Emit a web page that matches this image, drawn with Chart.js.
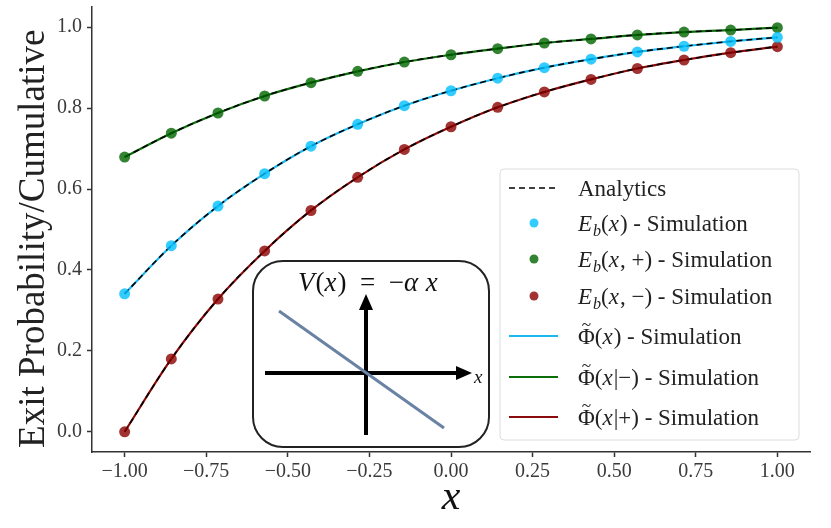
<!DOCTYPE html>
<html lang="en">
<head>
  <meta charset="UTF-8" />
  <title>Exit Probability / Cumulative</title>
  <style>
    html, body { margin: 0; padding: 0; background: #fff; }
    #wrap { width: 831px; height: 528px; }
  </style>
</head>
<body>
  <div id="wrap"><canvas id="chart"></canvas></div>

  <script src="https://cdn.jsdelivr.net/npm/chart.js"></script>
  <script>
    // x grid of the simulation (15 points between -1 and 1)
    const xs = [-1, -0.857, -0.714, -0.571, -0.429, -0.286, -0.143, 0, 0.143, 0.286, 0.429, 0.571, 0.714, 0.857, 1];
    // E_b(x), E_b(x,+), E_b(x,-) simulation points
    const ebAll   = [0.341, 0.460, 0.558, 0.638, 0.706, 0.760, 0.806, 0.843, 0.874, 0.900, 0.921, 0.939, 0.953, 0.965, 0.975];
    const ebPlus  = [0.679, 0.738, 0.788, 0.830, 0.863, 0.891, 0.914, 0.932, 0.947, 0.961, 0.971, 0.981, 0.988, 0.993, 0.999];
    const ebMinus = [0.000, 0.180, 0.328, 0.447, 0.547, 0.629, 0.698, 0.754, 0.802, 0.840, 0.871, 0.898, 0.919, 0.937, 0.952];
    // cumulative curves Phi~ (lie on top of the points)
    const phiAll   = [0.341, 0.460, 0.558, 0.638, 0.706, 0.760, 0.806, 0.843, 0.874, 0.900, 0.921, 0.939, 0.953, 0.965, 0.975];
    const phiMinus = [0.679, 0.738, 0.788, 0.830, 0.863, 0.891, 0.914, 0.932, 0.947, 0.961, 0.971, 0.981, 0.988, 0.993, 0.999];
    const phiPlus  = [0.000, 0.180, 0.328, 0.447, 0.547, 0.629, 0.698, 0.754, 0.802, 0.840, 0.871, 0.898, 0.919, 0.937, 0.952];

    const xTicks = [-1, -0.75, -0.5, -0.25, 0, 0.25, 0.5, 0.75, 1];
    const yTicks = [0, 0.2, 0.4, 0.6, 0.8, 1.0];

    const FONT = '"Liberation Serif", "Times New Roman", serif';
    const pts = arr => arr.map((y, i) => ({ x: xs[i], y: y }));

    const dotSet = (label, arr, color) => ({
      label: label, data: pts(arr), showLine: false,
      pointRadius: 5.5, pointHoverRadius: 5.5, pointBorderWidth: 0,
      pointBackgroundColor: color, borderColor: color, order: 0
    });
    const lineSet = (label, arr, color, dashed) => ({
      label: label, data: pts(arr), borderColor: color, borderWidth: dashed ? 1.6 : 2.2,
      borderDash: dashed ? [6, 4] : [], pointRadius: 0, cubicInterpolationMode: 'monotone',
      fill: false, order: dashed ? 1 : 2
    });

    // legend drawn inside the plot, matplotlib style
    const legendRows = [
      { kind: 'dash', color: '#000', parts: [{ t: 'Analytics' }] },
      { kind: 'dot', color: 'rgba(0,191,255,0.8)', parts: [{ t: 'E', it: 1 }, { t: 'b', it: 1, sub: 1 }, { t: '(' }, { t: 'x', it: 1 }, { t: ') - Simulation' }] },
      { kind: 'dot', color: 'rgba(0,100,0,0.8)', parts: [{ t: 'E', it: 1 }, { t: 'b', it: 1, sub: 1 }, { t: '(' }, { t: 'x', it: 1 }, { t: ', +) - Simulation' }] },
      { kind: 'dot', color: 'rgba(139,0,0,0.8)', parts: [{ t: 'E', it: 1 }, { t: 'b', it: 1, sub: 1 }, { t: '(' }, { t: 'x', it: 1 }, { t: ', −) - Simulation' }] },
      { kind: 'line', color: '#1cb8f0', parts: [{ t: 'Φ', tilde: 1 }, { t: '(' }, { t: 'x', it: 1 }, { t: ') - Simulation' }] },
      { kind: 'line', color: '#0b6e0b', parts: [{ t: 'Φ', tilde: 1 }, { t: '(' }, { t: 'x', it: 1 }, { t: '|−) - Simulation' }] },
      { kind: 'line', color: '#8b0a0a', parts: [{ t: 'Φ', tilde: 1 }, { t: '(' }, { t: 'x', it: 1 }, { t: '|+) - Simulation' }] }
    ];
    const legendRowY = [188, 223, 259, 296, 336, 377, 417];

    function drawMath(ctx, x, y, parts, size) {
      for (const p of parts) {
        const fs = p.sub ? size * 0.7 : size;
        ctx.font = (p.it ? 'italic ' : '') + fs + 'px ' + FONT;
        const w = ctx.measureText(p.t).width;
        ctx.fillText(p.t, x, y + (p.sub ? size * 0.22 : 0));
        if (p.tilde) {
          ctx.font = (size * 0.75) + 'px ' + FONT;
          ctx.textAlign = 'center';
          ctx.fillText('~', x + w / 2, y - size * 0.62);
          ctx.textAlign = 'left';
        }
        x += w + (p.it && !p.sub ? 1 : 0);
      }
      return x;
    }

    function arrow(ctx, x0, y0, x1, y1, head) {
      const a = Math.atan2(y1 - y0, x1 - x0);
      const bx = x1 - head * Math.cos(a), by = y1 - head * Math.sin(a);
      ctx.beginPath(); ctx.moveTo(x0, y0); ctx.lineTo(bx, by); ctx.stroke();
      ctx.beginPath();
      ctx.moveTo(x1, y1);
      ctx.lineTo(bx + 7 * Math.sin(a), by - 7 * Math.cos(a));
      ctx.lineTo(bx - 7 * Math.sin(a), by + 7 * Math.cos(a));
      ctx.closePath(); ctx.fill();
    }

    const decorations = {
      id: 'decorations',
      afterDraw(chart) {
        const ctx = chart.ctx;
        ctx.save();

        // inset: potential sketch
        ctx.beginPath();
        ctx.roundRect(253, 261, 236, 186, 30);
        ctx.fillStyle = '#fff'; ctx.fill();
        ctx.strokeStyle = '#222'; ctx.lineWidth = 2; ctx.stroke();

        ctx.strokeStyle = '#000'; ctx.fillStyle = '#000'; ctx.lineWidth = 4;
        arrow(ctx, 366, 435, 366, 294, 16);
        arrow(ctx, 265, 373, 472, 373, 16);

        ctx.strokeStyle = '#6a82a3'; ctx.lineWidth = 3;
        ctx.beginPath(); ctx.moveTo(279, 311); ctx.lineTo(444, 428); ctx.stroke();

        ctx.fillStyle = '#111'; ctx.textBaseline = 'alphabetic'; ctx.textAlign = 'left';
        drawMath(ctx, 298, 291, [{ t: 'V', it: 1 }, { t: '(' }, { t: 'x', it: 1 }, { t: ')  =  −' }, { t: 'α', it: 1 }, { t: ' ' }, { t: 'x', it: 1 }], 27);
        drawMath(ctx, 474, 383, [{ t: 'x', it: 1 }], 19);

        // legend
        ctx.beginPath();
        ctx.roundRect(500, 169, 299, 271, 4);
        ctx.fillStyle = 'rgba(255,255,255,0.85)'; ctx.fill();
        ctx.strokeStyle = '#dcdcdc'; ctx.lineWidth = 1; ctx.stroke();

        legendRows.forEach((r, i) => {
          const y = legendRowY[i];
          ctx.strokeStyle = r.color; ctx.fillStyle = r.color;
          if (r.kind === 'dot') {
            ctx.beginPath(); ctx.arc(534, y, 4.5, 0, Math.PI * 2); ctx.fill();
          } else {
            ctx.lineWidth = r.kind === 'dash' ? 1.6 : 2;
            ctx.setLineDash(r.kind === 'dash' ? [6, 4] : []);
            ctx.beginPath(); ctx.moveTo(509, y); ctx.lineTo(558, y); ctx.stroke();
            ctx.setLineDash([]);
          }
          ctx.fillStyle = '#222';
          drawMath(ctx, 578, y + 8, r.parts, 23);
        });
        ctx.restore();
      }
    };

    new Chart(document.getElementById('chart'), {
      type: 'line',
      data: {
        datasets: [
          dotSet('E_b(x) - Simulation', ebAll, 'rgba(0,191,255,0.8)'),
          dotSet('E_b(x,+) - Simulation', ebPlus, 'rgba(0,100,0,0.8)'),
          dotSet('E_b(x,-) - Simulation', ebMinus, 'rgba(139,0,0,0.8)'),
          lineSet('Analytics', phiAll, '#000', true),
          lineSet('Analytics +', phiMinus, '#000', true),
          lineSet('Analytics -', phiPlus, '#000', true),
          lineSet('Phi(x) - Simulation', phiAll, '#1cb8f0', false),
          lineSet('Phi(x|-) - Simulation', phiMinus, '#0b6e0b', false),
          lineSet('Phi(x|+) - Simulation', phiPlus, '#8b0a0a', false)
        ]
      },
      plugins: [decorations],
      options: {
        responsive: true,
        maintainAspectRatio: false,
        animation: false,
        layout: { padding: { top: 7, right: 21, left: 0, bottom: 0 } },
        plugins: { legend: { display: false }, tooltip: { enabled: false } },
        scales: {
          x: {
            type: 'linear', min: -1.1, max: 1.1,
            afterBuildTicks: axis => { axis.ticks = xTicks.map(v => ({ value: v })); },
            afterFit: axis => { axis.height = 76; axis.paddingLeft = 0; axis.paddingRight = 0; },
            border: { color: '#333', width: 1.5 },
            grid: { drawOnChartArea: false, drawTicks: true, tickLength: 5, tickColor: '#333', tickWidth: 1.5 },
            ticks: { font: { family: FONT, size: 20 }, color: '#3a3a3a', padding: 3, maxRotation: 0,
                     callback: v => v.toFixed(2).replace('-', '−') },
            title: { display: true, text: 'x', color: '#111', padding: { top: 0, bottom: 5 },
                     font: { family: FONT, size: 42, style: 'italic' } }
          },
          y: {
            min: -0.05, max: 1.05,
            afterBuildTicks: axis => { axis.ticks = yTicks.map(v => ({ value: v })); },
            afterFit: axis => { axis.width = 92; axis.paddingTop = 0; axis.paddingBottom = 0; },
            border: { color: '#333', width: 1.5 },
            grid: { drawOnChartArea: false, drawTicks: true, tickLength: 5, tickColor: '#333', tickWidth: 1.5 },
            ticks: { font: { family: FONT, size: 20 }, color: '#3a3a3a', padding: 5,
                     callback: v => v.toFixed(1) },
            // trailing en space nudges the rotated title down a little
            title: { display: true, text: 'Exit Probability/Cumulative\u2002', color: '#222', padding: { top: 12, bottom: 0 },
                     font: { family: FONT, size: 37 } }
          }
        }
      }
    });
  </script>
</body>
</html>
